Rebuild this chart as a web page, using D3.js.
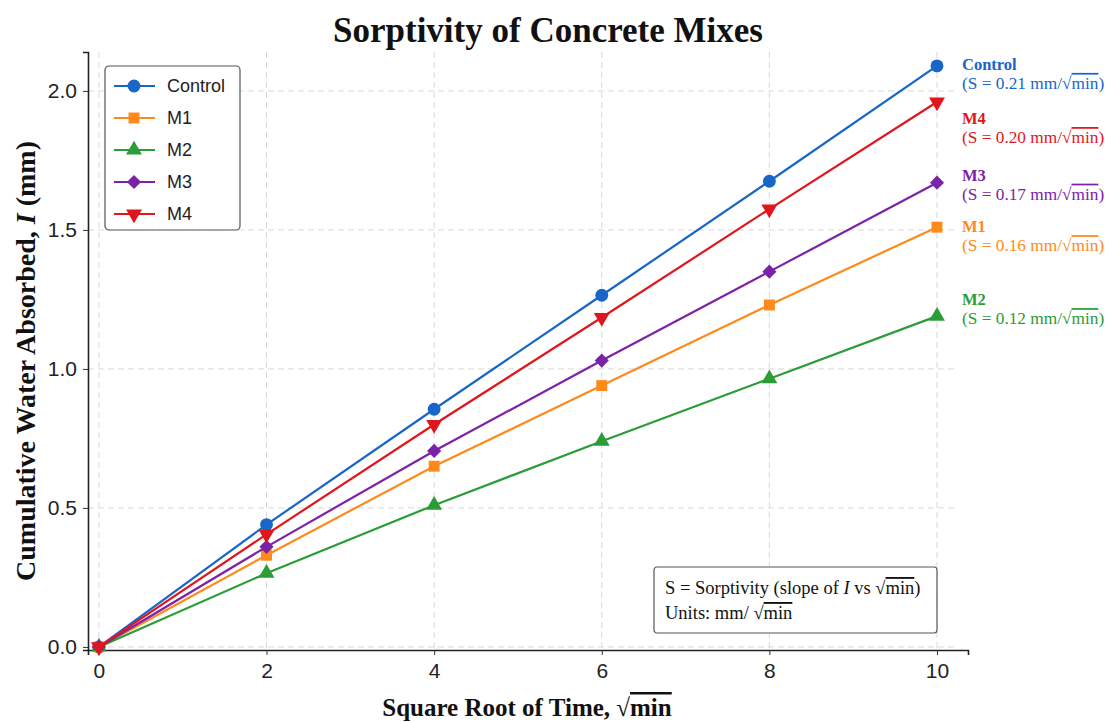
<!DOCTYPE html>
<html>
<head>
<meta charset="utf-8">
<script src="https://cdn.jsdelivr.net/npm/d3@7"></script>
<style>
  body { margin: 0; background: #fff; }
  svg { display: block; }
</style>
</head>
<body>
<div id="chart"></div>
<script>
// Data
const times = [0, 2, 4, 6, 8, 10];
const mixes = ['Control', 'M1', 'M2', 'M3', 'M4'];
const controlVals = [0, 0.44, 0.855, 1.265, 1.675, 2.09];
const m1Vals = [0, 0.33, 0.65, 0.94, 1.23, 1.51];
const m2Vals = [0, 0.265, 0.51, 0.74, 0.965, 1.19];
const m3Vals = [0, 0.36, 0.705, 1.03, 1.35, 1.67];
const m4Vals = [0, 0.405, 0.80, 1.185, 1.575, 1.96];
const sorptivity = [0.21, 0.16, 0.12, 0.17, 0.20];
const xTicks = [0, 2, 4, 6, 8, 10];
const yTicks = [0.0, 0.5, 1.0, 1.5, 2.0];

const allVals = [controlVals, m1Vals, m2Vals, m3Vals, m4Vals];
const colors = ['#1766c8', '#ff8a1c', '#2a9d36', '#7c22a8', '#e0161d'];
const symbols = [d3.symbolCircle, d3.symbolSquare, d3.symbolTriangle, d3.symbolSquare, d3.symbolTriangle];
const symSizes = [130, 120, 110, 100, 110];
const symRotate = [0, 0, 0, 45, 180];

const series = mixes.map((name, i) => ({
    name: name,
    color: colors[i],
    s: sorptivity[i],
    idx: i,
    points: times.map((t, j) => ({ t: t, v: allVals[i][j] }))
}));

// SVG setup
const svgWidth = 1110;
const svgHeight = 722;
const margin = { top: 52, right: 142, bottom: 72, left: 88 };
const width = svgWidth - margin.left - margin.right;
const height = svgHeight - margin.top - margin.bottom;

const root = d3.select('#chart')
    .append('svg')
    .attr('width', svgWidth)
    .attr('height', svgHeight);

const svg = root.append('g')
    .attr('transform', `translate(${margin.left},${margin.top})`);

// Scales
const xScale = d3.scaleLinear().domain([-0.13, 10.37]).range([0, width]);
const yScale = d3.scaleLinear().domain([-0.011, 2.14]).range([height, 0]);

// Grid
svg.append('g')
    .selectAll('line')
    .data(xTicks)
    .enter()
    .append('line')
    .attr('x1', d => xScale(d))
    .attr('x2', d => xScale(d))
    .attr('y1', 0)
    .attr('y2', height)
    .attr('stroke', '#d9d9d9')
    .attr('stroke-dasharray', '6,4');

svg.append('g')
    .selectAll('line')
    .data(yTicks)
    .enter()
    .append('line')
    .attr('x1', 0)
    .attr('x2', width - 12)
    .attr('y1', d => yScale(d))
    .attr('y2', d => yScale(d))
    .attr('stroke', '#d9d9d9')
    .attr('stroke-dasharray', '6,4');

// Axes
const xAxis = svg.append('g')
    .attr('transform', `translate(0,${height})`)
    .call(d3.axisBottom(xScale).tickValues(xTicks).tickFormat(d3.format('d')).tickSizeOuter(0).tickSize(5).tickPadding(8));

const yAxis = svg.append('g')
    .call(d3.axisLeft(yScale).tickValues(yTicks).tickFormat(d3.format('.1f')).tickSizeOuter(0).tickSize(5).tickPadding(6));

[xAxis, yAxis].forEach(ax => {
    ax.select('.domain').attr('stroke', '#222').attr('stroke-width', 1.6);
    ax.selectAll('.tick line').attr('stroke', '#333');
    ax.selectAll('.tick text')
        .style('font-family', '"Liberation Sans", Arial, sans-serif')
        .style('font-size', '21px')
        .attr('fill', '#222');
});

// Lines
const line = d3.line()
    .x(d => xScale(d.t))
    .y(d => yScale(d.v));

const groups = svg.selectAll('.series')
    .data(series)
    .enter()
    .append('g')
    .attr('class', 'series');

groups.append('path')
    .attr('d', d => line(d.points))
    .attr('fill', 'none')
    .attr('stroke', d => d.color)
    .attr('stroke-width', 2.2);

groups.each(function (s) {
    d3.select(this).selectAll('path.mk')
        .data(s.points)
        .enter()
        .append('path')
        .attr('class', 'mk')
        .attr('d', d3.symbol().type(symbols[s.idx]).size(symSizes[s.idx]))
        .attr('transform', d => `translate(${xScale(d.t)},${yScale(d.v)}) rotate(${symRotate[s.idx]})`)
        .attr('fill', s.color);
});

// End labels (nudged so they don't overlap)
const labelShift = { Control: 4, M4: 22, M3: -2, M1: 5, M2: -11 };
const labelX = width - 6;
const endLabels = svg.selectAll('.endlabel')
    .data(series)
    .enter()
    .append('text')
    .attr('class', 'endlabel')
    .attr('x', labelX)
    .attr('y', d => yScale(d.points[d.points.length - 1].v) + labelShift[d.name])
    .style('font-family', '"Liberation Serif", "Times New Roman", serif')
    .style('font-size', '17.3px')
    .attr('fill', d => d.color);

endLabels.append('tspan')
    .attr('font-weight', 'bold')
    .style('font-size', '16.5px')
    .text(d => d.name);

endLabels.each(function (d) {
    const t = d3.select(this);
    const y = +t.attr('y');
    const ts = t.append('tspan').attr('x', labelX).attr('y', y + 19);
    ts.append('tspan').text(`(S = ${d.s.toFixed(2)} mm/√`);
    ts.append('tspan').style('text-decoration', 'overline').text('min');
    ts.append('tspan').text(')');
});

// Legend
const legend = svg.append('g').attr('transform', 'translate(17,14)');
legend.append('rect')
    .attr('width', 135)
    .attr('height', 164)
    .attr('rx', 4)
    .attr('fill', '#fff')
    .attr('stroke', '#555')
    .attr('stroke-width', 1.2);

const legItems = legend.selectAll('.leg')
    .data(series)
    .enter()
    .append('g')
    .attr('transform', (d, i) => `translate(0,${20 + i * 32})`);

legItems.append('line')
    .attr('x1', 9).attr('x2', 50)
    .attr('stroke', d => d.color)
    .attr('stroke-width', 2.2);

legItems.append('path')
    .attr('d', d => d3.symbol().type(symbols[d.idx]).size(symSizes[d.idx])())
    .attr('transform', d => `translate(29,0) rotate(${symRotate[d.idx]})`)
    .attr('fill', d => d.color);

legItems.append('text')
    .attr('x', 62)
    .attr('dy', '0.35em')
    .style('font-family', '"Liberation Sans", Arial, sans-serif')
    .style('font-size', '18px')
    .attr('fill', '#222')
    .text(d => d.name);

// Note box
const note = svg.append('g').attr('transform', `translate(${width - 314},${height - 83})`);
note.append('rect')
    .attr('width', 283)
    .attr('height', 66)
    .attr('rx', 3)
    .attr('fill', '#fff')
    .attr('stroke', '#555')
    .attr('stroke-width', 1.2);

const noteText = note.append('text')
    .style('font-family', '"Liberation Serif", "Times New Roman", serif')
    .style('font-size', '18.5px')
    .attr('fill', '#111');

const l1 = noteText.append('tspan').attr('x', 11).attr('y', 27);
l1.append('tspan').text('S = Sorptivity (slope of ');
l1.append('tspan').style('font-style', 'italic').text('I');
l1.append('tspan').text(' vs √');
l1.append('tspan').style('text-decoration', 'overline').text('min');
l1.append('tspan').text(')');

const l2 = noteText.append('tspan').attr('x', 11).attr('y', 52);
l2.append('tspan').text('Units: mm/ √');
l2.append('tspan').style('text-decoration', 'overline').text('min');

// Title
root.append('text')
    .attr('x', 548)
    .attr('y', 42)
    .attr('text-anchor', 'middle')
    .style('font-family', '"Liberation Serif", "Times New Roman", serif')
    .style('font-size', '35px')
    .style('font-weight', 'bold')
    .attr('fill', '#111')
    .text('Sorptivity of Concrete Mixes');

// X label
const xl = root.append('text')
    .attr('x', 527)
    .attr('y', 716)
    .attr('text-anchor', 'middle')
    .style('font-family', '"Liberation Serif", "Times New Roman", serif')
    .style('font-size', '25px')
    .style('font-weight', 'bold')
    .attr('fill', '#111');
xl.append('tspan').text('Square Root of Time, √');
xl.append('tspan').style('text-decoration', 'overline').text('min');

// Y label
const yl = root.append('text')
    .attr('transform', 'translate(35,361) rotate(-90)')
    .attr('text-anchor', 'middle')
    .style('font-family', '"Liberation Serif", "Times New Roman", serif')
    .style('font-size', '28px')
    .style('font-weight', 'bold')
    .attr('fill', '#111');
yl.append('tspan').text('Cumulative Water Absorbed, ');
yl.append('tspan').style('font-style', 'italic').text('I');
yl.append('tspan').text(' (mm)');
</script>
</body>
</html>
